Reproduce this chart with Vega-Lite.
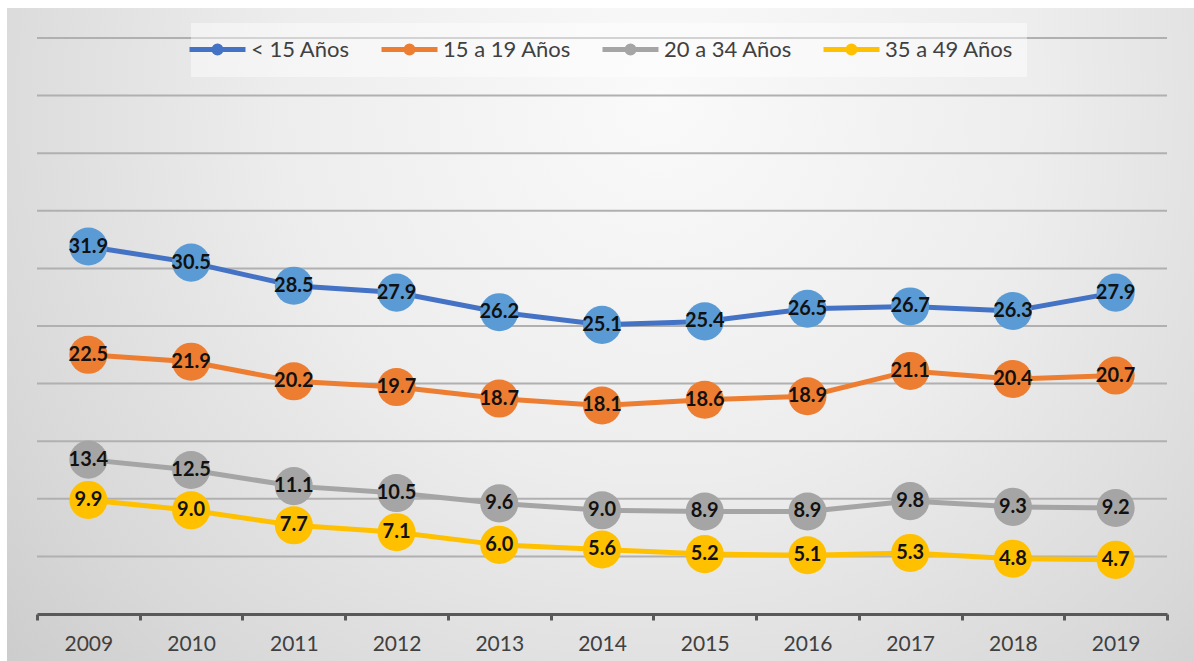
{
  "$schema": "https://vega.github.io/schema/vega-lite/v6.json",
  "width": 1187,
  "height": 653,
  "autosize": {"type": "none"},
  "padding": {"left": 7, "top": 8, "right": 0, "bottom": 0},
  "background": "#ffffff",
  "config": {
    "view": {"stroke": null},
    "font": "Lato"
  },
  "datasets": {
    "series": [
      {"year": "2009", "grupo": "< 15 Años", "valor": 31.9},
      {"year": "2010", "grupo": "< 15 Años", "valor": 30.5},
      {"year": "2011", "grupo": "< 15 Años", "valor": 28.5},
      {"year": "2012", "grupo": "< 15 Años", "valor": 27.9},
      {"year": "2013", "grupo": "< 15 Años", "valor": 26.2},
      {"year": "2014", "grupo": "< 15 Años", "valor": 25.1},
      {"year": "2015", "grupo": "< 15 Años", "valor": 25.4},
      {"year": "2016", "grupo": "< 15 Años", "valor": 26.5},
      {"year": "2017", "grupo": "< 15 Años", "valor": 26.7},
      {"year": "2018", "grupo": "< 15 Años", "valor": 26.3},
      {"year": "2019", "grupo": "< 15 Años", "valor": 27.9},
      {"year": "2009", "grupo": "15 a 19 Años", "valor": 22.5},
      {"year": "2010", "grupo": "15 a 19 Años", "valor": 21.9},
      {"year": "2011", "grupo": "15 a 19 Años", "valor": 20.2},
      {"year": "2012", "grupo": "15 a 19 Años", "valor": 19.7},
      {"year": "2013", "grupo": "15 a 19 Años", "valor": 18.7},
      {"year": "2014", "grupo": "15 a 19 Años", "valor": 18.1},
      {"year": "2015", "grupo": "15 a 19 Años", "valor": 18.6},
      {"year": "2016", "grupo": "15 a 19 Años", "valor": 18.9},
      {"year": "2017", "grupo": "15 a 19 Años", "valor": 21.1},
      {"year": "2018", "grupo": "15 a 19 Años", "valor": 20.4},
      {"year": "2019", "grupo": "15 a 19 Años", "valor": 20.7},
      {"year": "2009", "grupo": "20 a 34 Años", "valor": 13.4},
      {"year": "2010", "grupo": "20 a 34 Años", "valor": 12.5},
      {"year": "2011", "grupo": "20 a 34 Años", "valor": 11.1},
      {"year": "2012", "grupo": "20 a 34 Años", "valor": 10.5},
      {"year": "2013", "grupo": "20 a 34 Años", "valor": 9.6},
      {"year": "2014", "grupo": "20 a 34 Años", "valor": 9.0},
      {"year": "2015", "grupo": "20 a 34 Años", "valor": 8.9},
      {"year": "2016", "grupo": "20 a 34 Años", "valor": 8.9},
      {"year": "2017", "grupo": "20 a 34 Años", "valor": 9.8},
      {"year": "2018", "grupo": "20 a 34 Años", "valor": 9.3},
      {"year": "2019", "grupo": "20 a 34 Años", "valor": 9.2},
      {"year": "2009", "grupo": "35 a 49 Años", "valor": 9.9},
      {"year": "2010", "grupo": "35 a 49 Años", "valor": 9.0},
      {"year": "2011", "grupo": "35 a 49 Años", "valor": 7.7},
      {"year": "2012", "grupo": "35 a 49 Años", "valor": 7.1},
      {"year": "2013", "grupo": "35 a 49 Años", "valor": 6.0},
      {"year": "2014", "grupo": "35 a 49 Años", "valor": 5.6},
      {"year": "2015", "grupo": "35 a 49 Años", "valor": 5.2},
      {"year": "2016", "grupo": "35 a 49 Años", "valor": 5.1},
      {"year": "2017", "grupo": "35 a 49 Años", "valor": 5.3},
      {"year": "2018", "grupo": "35 a 49 Años", "valor": 4.8},
      {"year": "2019", "grupo": "35 a 49 Años", "valor": 4.7}
    ],
    "grid": [
      {"g": 5}, {"g": 10}, {"g": 15}, {"g": 20}, {"g": 25},
      {"g": 30}, {"g": 35}, {"g": 40}, {"g": 45}, {"g": 50}
    ]
  },
  "layer": [
    {
      "data": {"values": [{}]},
      "mark": {
        "type": "rect",
        "color": {
          "gradient": "radial",
          "x1": 0.55, "y1": 0.3, "r1": 0,
          "x2": 0.55, "y2": 0.3, "r2": 0.8,
          "stops": [
            {"offset": 0, "color": "#fafafa"},
            {"offset": 0.4, "color": "#ededed"},
            {"offset": 0.75, "color": "#d8d8d8"},
            {"offset": 1, "color": "#c6c6c6"}
          ]
        }
      },
      "encoding": {
        "x": {"value": 0},
        "x2": {"value": "width"},
        "y": {"value": 0},
        "y2": {"value": "height"}
      }
    },
    {
      "data": {"name": "grid"},
      "mark": {"type": "rule", "color": "#b0b0b0", "strokeWidth": 2},
      "encoding": {
        "y": {"field": "g", "type": "quantitative", "scale": {"domain": [0, 50], "range": [606, 30], "nice": false}, "axis": null},
        "x": {"datum": 0, "type": "quantitative", "scale": {"domain": [0, 1], "range": [30, 1160]}, "axis": null},
        "x2": {"datum": 1}
      }
    },
    {
      "data": {"name": "series"},
      "encoding": {
        "x": {
          "field": "year", "type": "nominal",
          "scale": {"range": [30, 1160], "paddingInner": 0, "paddingOuter": 0},
          "axis": {
            "title": null,
            "zindex": 2,
            "offset": -47,
            "labelAngle": 0,
            "labelFont": "Lato",
            "labelFontSize": 21,
            "labelColor": "#404040",
            "labelPadding": 13,
            "domainColor": "#595959",
            "domainWidth": 3,
            "tickColor": "#595959",
            "tickWidth": 3,
            "tickSize": 6,
            "tickBand": "extent",
            "grid": false
          }
        },
        "y": {"field": "valor", "type": "quantitative", "scale": {"domain": [0, 50], "range": [606, 30], "nice": false}, "axis": null}
      },
      "layer": [
        {
          "mark": {"type": "line", "strokeWidth": 5},
          "encoding": {
            "color": {
              "field": "grupo", "type": "nominal",
              "scale": {
                "domain": ["< 15 Años", "15 a 19 Años", "20 a 34 Años", "35 a 49 Años"],
                "range": ["#4472C4", "#ED7D31", "#A5A5A5", "#FFC000"]
              },
              "legend": {
                "title": null,
                "orient": "none",
                "legendX": 184,
                "legendY": 15,
                "direction": "horizontal",
                "columns": 4,
                "padding": 14,
                "fillColor": "rgba(255,255,255,0.45)",
                "symbolType": "M-2.8,0H2.8M-0.35,0A0.35,0.35,0,1,0,0.35,0A0.35,0.35,0,1,0,-0.35,0",
                "symbolSize": 400,
                "symbolStrokeWidth": 5,
                "labelFont": "Lato",
                "labelFontSize": 22,
                "labelColor": "#404040",
                "labelOffset": 21,
                "columnPadding": 21
              }
            }
          }
        },
        {
          "mark": {"type": "point", "shape": "circle", "filled": true, "opacity": 1, "size": 1450},
          "encoding": {
            "fill": {
              "field": "grupo", "type": "nominal",
              "scale": {
                "domain": ["< 15 Años", "15 a 19 Años", "20 a 34 Años", "35 a 49 Años"],
                "range": ["#5B9BD5", "#ED7D31", "#A5A5A5", "#FFC000"]
              },
              "legend": null
            }
          }
        },
        {
          "mark": {"type": "text", "font": "Lato", "fontWeight": "bold", "fontSize": 20, "color": "#111111", "align": "center", "baseline": "middle"},
          "encoding": {
            "text": {"field": "valor", "type": "quantitative", "format": ".1f"}
          }
        }
      ]
    }
  ],
  "resolve": {"scale": {"x": "independent"}}
}
